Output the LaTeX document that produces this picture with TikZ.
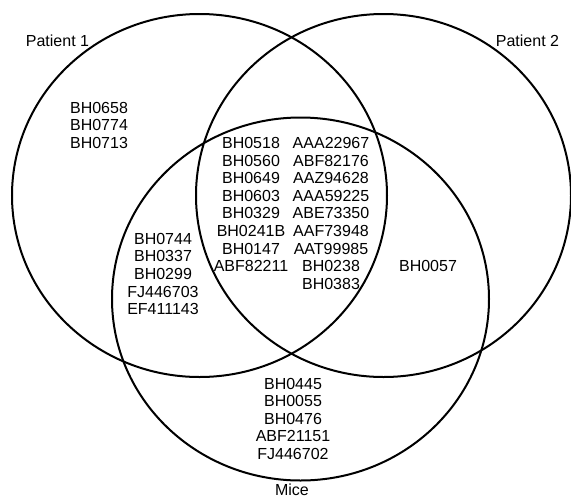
\documentclass[tikz,border=0pt]{standalone}
\usepackage{fontspec}
\setmainfont{Liberation Sans}
\usepackage{tikz}
\tikzset{
  set ring/.style={
    draw,
    black,
    line width=2pt
  },
  gene list/.style={
    align=center,
    inner sep=0pt,
    anchor=base
  },
  set label/.style={
    inner sep=0pt,
    anchor=base
  }
}

\begin{document}
\begin{tikzpicture}[x=1pt, y=-1pt, font=\fontsize{16}{17.6}\selectfont]
  \useasboundingbox (0,0) rectangle (571,499);

  \coordinate (patient1) at (199.5,195.5);
  \coordinate (patient2) at (383.5,195.5);
  \coordinate (mice)     at (300.5,299);

  \draw[set ring] (patient1) ellipse [x radius=187.5pt, y radius=181.5pt];
  \draw[set ring] (patient2) ellipse [x radius=187.5pt, y radius=181.5pt];
  \draw[set ring] (mice)     ellipse [x radius=188.5pt, y radius=181.5pt];

  % lists are placed by the baseline of their last line
  \node[set label] (patient1 label) at (57.5,46.5)  {Patient 1};
  \node[set label] (patient2 label) at (527.5,46.5) {Patient 2};
  \node[set label] (mice label)     at (292,495.5)  {Mice};

  \node[gene list] (only1) at (99,148.2) {BH0658\\BH0774\\BH0713};
  \node[gene list] (all left) at (251,271.6)
    {BH0518\\BH0560\\BH0649\\BH0603\\BH0329\\BH0241B\\BH0147\\ABF82211};
  \node[gene list] (all right) at (331,289.2)
    {AAA22967\\ABF82176\\AAZ94628\\AAA59225\\ABE73350\\AAF73948\\AAT99985\\BH0238\\BH0383};
  \node[gene list] (one mice) at (163,314.6)
    {BH0744\\BH0337\\BH0299\\FJ446703\\EF411143};
  \node[gene list] (two mice) at (428,271.6) {BH0057};
  \node[gene list] (only mice) at (293,459.4)
    {BH0445\\BH0055\\BH0476\\ABF21151\\FJ446702};
\end{tikzpicture}
\end{document}
